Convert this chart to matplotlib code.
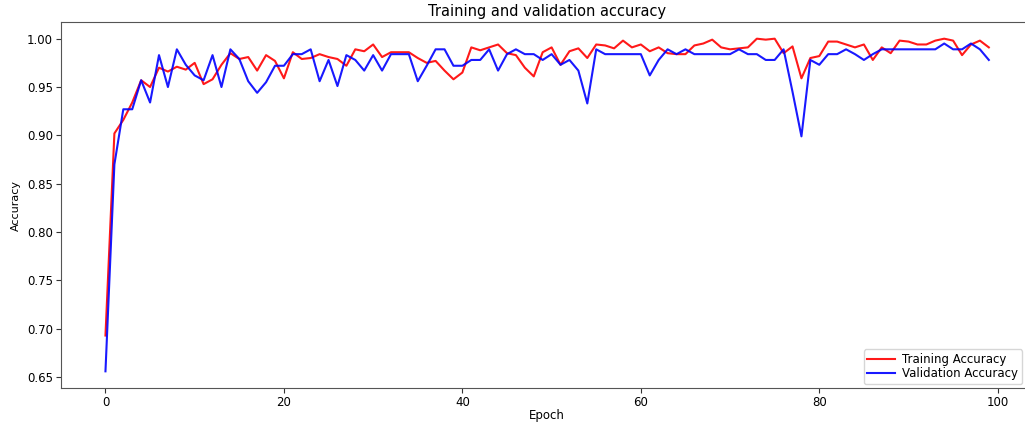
import matplotlib
matplotlib.use("Agg")
import matplotlib.pyplot as plt
import numpy as np

# Per-epoch accuracy history
train_acc = [
    0.693, 0.902, 0.916, 0.934, 0.957, 0.950, 0.970, 0.966, 0.971, 0.968,
    0.975, 0.953, 0.958, 0.973, 0.985, 0.979, 0.981, 0.967, 0.983, 0.977,
    0.959, 0.986, 0.979, 0.980, 0.984, 0.981, 0.979, 0.972, 0.989, 0.987,
    0.994, 0.981, 0.986, 0.986, 0.986, 0.980, 0.975, 0.977, 0.967, 0.958,
    0.965, 0.991, 0.988, 0.991, 0.994, 0.985, 0.983, 0.970, 0.961, 0.986,
    0.991, 0.973, 0.987, 0.990, 0.980, 0.994, 0.993, 0.990, 0.998, 0.991,
    0.994, 0.987, 0.991, 0.985, 0.984, 0.984, 0.993, 0.995, 0.999, 0.991,
    0.989, 0.990, 0.991, 1.000, 0.999, 1.000, 0.985, 0.992, 0.959, 0.980,
    0.982, 0.997, 0.997, 0.994, 0.991, 0.994, 0.978, 0.991, 0.985, 0.998,
    0.997, 0.994, 0.994, 0.998, 1.000, 0.998, 0.983, 0.994, 0.998, 0.991,
]
val_acc = [
    0.656, 0.870, 0.927, 0.927, 0.957, 0.934, 0.983, 0.950, 0.989, 0.973,
    0.962, 0.957, 0.983, 0.950, 0.989, 0.979, 0.956, 0.944, 0.955, 0.972,
    0.972, 0.984, 0.984, 0.989, 0.956, 0.978, 0.951, 0.983, 0.978, 0.967,
    0.983, 0.967, 0.984, 0.984, 0.984, 0.956, 0.972, 0.989, 0.989, 0.972,
    0.972, 0.978, 0.978, 0.989, 0.967, 0.984, 0.989, 0.984, 0.984, 0.978,
    0.984, 0.973, 0.978, 0.967, 0.933, 0.989, 0.984, 0.984, 0.984, 0.984,
    0.984, 0.962, 0.978, 0.989, 0.984, 0.989, 0.984, 0.984, 0.984, 0.984,
    0.984, 0.989, 0.984, 0.984, 0.978, 0.978, 0.989, 0.945, 0.899, 0.978,
    0.973, 0.984, 0.984, 0.989, 0.984, 0.978, 0.984, 0.989, 0.989, 0.989,
    0.989, 0.989, 0.989, 0.989, 0.995, 0.989, 0.989, 0.995, 0.989, 0.978,
]
epochs = np.arange(len(train_acc))

fig = plt.figure(figsize=(10.25, 4.24), dpi=100)
ax = fig.add_axes([0.0598, 0.085, 0.948, 0.863])

ax.plot(epochs, train_acc, color="red", lw=1.5, alpha=0.9, label="Training Accuracy")
ax.plot(epochs, val_acc, color="blue", lw=1.5, alpha=0.9, label="Validation Accuracy")

ax.set_title("Training and validation accuracy", fontsize=10.5, pad=4)
ax.set_xlabel("Epoch", fontsize=8.5, labelpad=0)
ax.set_ylabel("Accuracy", fontsize=8, labelpad=4)
ax.tick_params(labelsize=8.5, colors="#333333", labelcolor="black", pad=2.5)
ax.spines["right"].set_visible(False)
for s in ax.spines.values():
    s.set_color("#555555")

ax.legend(loc="lower right", fontsize=8.5, labelspacing=0.15, borderpad=0.3,
          handlelength=2.4, handletextpad=0.6,
          bbox_to_anchor=(1022 / 1025, 40 / 424),
          bbox_transform=fig.transFigure, borderaxespad=0)

fig.savefig("out.png", dpi=100)
